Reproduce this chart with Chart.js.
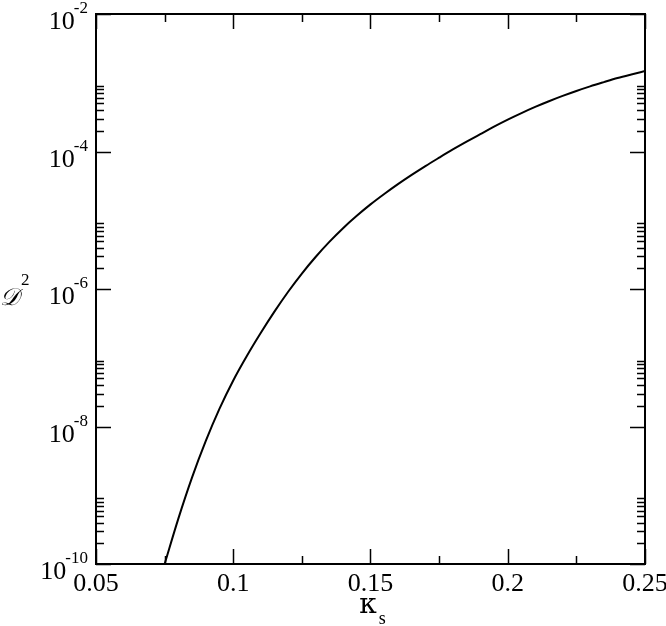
<!DOCTYPE html>
<html>
<head>
<meta charset="utf-8">
<script src="https://cdn.jsdelivr.net/npm/chart.js@4/dist/chart.umd.min.js"></script>
<style>
html,body{margin:0;padding:0;background:#fff;}
#wrap{width:666px;height:626px;position:relative;}
</style>
</head>
<body>
<div id="wrap"><canvas id="c" width="666" height="626"></canvas></div>
<script>
// kappa_s values
const kappa = [0.075,0.080,0.085,0.090,0.095,0.100,0.105,0.110,0.115,0.120,0.125,0.130,0.135,0.140,0.145,0.150,0.155,0.160,0.165,0.170,0.175,0.180,0.185,0.190,0.195,0.200,0.205,0.210,0.215,0.220,0.225,0.230,0.235,0.240,0.245,0.250];
// D^2 values
const d2 = [1.00e-10,4.57e-10,1.82e-9,6.17e-9,1.82e-8,4.68e-8,1.07e-7,2.29e-7,4.68e-7,9.12e-7,1.68e-6,2.92e-6,4.84e-6,7.67e-6,1.16e-5,1.70e-5,2.41e-5,3.35e-5,4.57e-5,6.14e-5,8.13e-5,1.07e-4,1.39e-4,1.79e-4,2.30e-4,2.91e-4,3.62e-4,4.45e-4,5.38e-4,6.43e-4,7.59e-4,8.85e-4,1.02e-3,1.17e-3,1.32e-3,1.48e-3];
// tick values
const xMajor = [0.05,0.10,0.15,0.20,0.25];
const xMinor = [0.075,0.125,0.175,0.225];
const xLabels = ["0.05","0.1","0.15","0.2","0.25"];
const yMajor = [1e-10,1e-8,1e-6,1e-4,1e-2];
const yExp = ["-10","-8","-6","-4","-2"];
const yMinorMult = [2,3,4,5,6,7,8,9];

const SERIF = '"Liberation Serif","Times New Roman",serif';

const framePlugin = {
  id:'frame',
  afterDraw(chart){
    const {ctx, chartArea:a, scales:{x,y}} = chart;
    ctx.save();
    ctx.strokeStyle='#000';
    ctx.lineWidth=2;
    ctx.strokeRect(a.left, a.top, a.right-a.left, a.bottom-a.top);
    ctx.lineWidth=1.5;
    ctx.beginPath();
    xMajor.forEach(v=>{const p=Math.round(x.getPixelForValue(v))+0.5;
      ctx.moveTo(p,a.bottom);ctx.lineTo(p,a.bottom-15);
      ctx.moveTo(p,a.top);ctx.lineTo(p,a.top+15);});
    xMinor.forEach(v=>{const p=Math.round(x.getPixelForValue(v))+0.5;
      ctx.moveTo(p,a.bottom);ctx.lineTo(p,a.bottom-8);
      ctx.moveTo(p,a.top);ctx.lineTo(p,a.top+8);});
    yMajor.forEach(v=>{const p=Math.round(y.getPixelForValue(v))+0.5;
      ctx.moveTo(a.left,p);ctx.lineTo(a.left+15,p);
      ctx.moveTo(a.right,p);ctx.lineTo(a.right-15,p);});
    yMajor.slice(0,-1).forEach(v=>{yMinorMult.forEach(m=>{
      const p=Math.round(y.getPixelForValue(v*m))+0.5;
      ctx.moveTo(a.left,p);ctx.lineTo(a.left+8,p);
      ctx.moveTo(a.right,p);ctx.lineTo(a.right-8,p);});});
    ctx.stroke();
    ctx.fillStyle='#000';
    ctx.textBaseline='alphabetic';
    // x tick labels
    ctx.textAlign='center';
    ctx.font='26px '+SERIF;
    xMajor.forEach((v,i)=>{
      ctx.fillText(xLabels[i], x.getPixelForValue(v), 591);
    });
    // y tick labels with superscripts
    ctx.textAlign='right';
    yMajor.forEach((v,i)=>{
      const p=y.getPixelForValue(v);
      ctx.font='17px '+SERIF;
      const w=ctx.measureText(yExp[i]).width;
      ctx.fillText(yExp[i], 88, p-1);
      ctx.font='26px '+SERIF;
      ctx.fillText('10', 88-w+1, p+15);
    });
    // y axis title
    ctx.textAlign='left';
    ctx.font='italic 24px '+SERIF;
    ctx.fillText('𝒟', 0, 305);
    ctx.font='17px '+SERIF;
    ctx.fillText('2', 21, 285);
    // x axis title
    ctx.font='28px "DejaVu Serif",serif';
    const kw=ctx.measureText('κ').width;
    ctx.fillText('κ', 370-kw/2-2, 613);
    ctx.font='18px '+SERIF;
    ctx.fillText('s', 370+kw/2, 624);
    ctx.restore();
  }
};

new Chart(document.getElementById('c'), {
  type:'line',
  data:{datasets:[{
    data: kappa.map((k,i)=>({x:k,y:d2[i]})),
    borderColor:'#000', borderWidth:2, pointRadius:0, fill:false,
    cubicInterpolationMode:'monotone'
  }]},
  options:{
    responsive:false, animation:false, devicePixelRatio:1,
    layout:{padding:{top:14,right:21,left:0,bottom:0}},
    plugins:{legend:{display:false},tooltip:{enabled:false}},
    scales:{
      x:{type:'linear',min:0.05,max:0.25,
        afterBuildTicks(s){s.ticks=xMajor.map(v=>({value:v}));},
        afterFit(s){s.height=62;s.paddingLeft=0;s.paddingRight=0;},
        grid:{display:false}, border:{display:false},
        ticks:{display:false}
      },
      y:{type:'logarithmic',min:1e-10,max:1e-2,
        afterBuildTicks(s){s.ticks=yMajor.map(v=>({value:v}));},
        afterFit(s){s.width=96;s.paddingTop=0;s.paddingBottom=0;},
        grid:{display:false}, border:{display:false},
        ticks:{display:false}
      }
    }
  },
  plugins:[framePlugin]
});
</script>
</body>
</html>
